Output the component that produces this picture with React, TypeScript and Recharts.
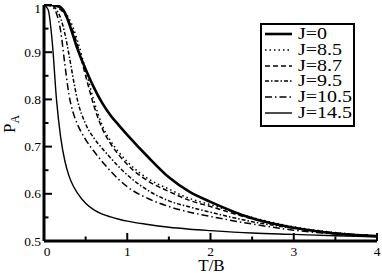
import React from 'react';
import { LineChart, Line, XAxis, YAxis, Legend, Label } from 'recharts';

// Temperature grid (T/B)
const T = [0, 0.05, 0.1, 0.15, 0.2, 0.25, 0.3, 0.35, 0.4, 0.5, 0.6, 0.7, 0.8, 0.9, 1.0, 1.25, 1.5, 1.75, 2.0, 2.5, 3.0, 3.5, 4.0];

// P_A values per J
const J0 = [1.0, 1.0, 1.0, 0.999, 0.995, 0.984, 0.962, 0.935, 0.908, 0.864, 0.825, 0.792, 0.766, 0.745, 0.725, 0.678, 0.635, 0.604, 0.583, 0.548, 0.528, 0.516, 0.51];
const J85 = [1.0, 1.0, 0.999, 0.997, 0.993, 0.985, 0.972, 0.952, 0.926, 0.862, 0.797, 0.745, 0.712, 0.688, 0.668, 0.632, 0.61, 0.59, 0.577, 0.55, 0.53, 0.518, 0.511];
const J87 = [1.0, 1.0, 0.999, 0.996, 0.99, 0.98, 0.965, 0.944, 0.916, 0.85, 0.786, 0.738, 0.706, 0.682, 0.662, 0.627, 0.605, 0.586, 0.573, 0.547, 0.528, 0.517, 0.511];
const J95 = [1.0, 1.0, 0.998, 0.99, 0.972, 0.94, 0.895, 0.845, 0.8, 0.748, 0.718, 0.696, 0.676, 0.657, 0.64, 0.607, 0.585, 0.572, 0.561, 0.541, 0.527, 0.517, 0.511];
const J105 = [1.0, 0.999, 0.996, 0.982, 0.945, 0.875, 0.81, 0.772, 0.748, 0.715, 0.69, 0.668, 0.648, 0.63, 0.615, 0.59, 0.573, 0.561, 0.552, 0.536, 0.523, 0.515, 0.51];
const J145 = [1.0, 0.99, 0.92, 0.8, 0.72, 0.67, 0.638, 0.617, 0.602, 0.58, 0.566, 0.557, 0.551, 0.546, 0.542, 0.535, 0.529, 0.525, 0.522, 0.517, 0.514, 0.511, 0.509];

const seriesNames = ['J=0', 'J=8.5', 'J=8.7', 'J=9.5', 'J=10.5', 'J=14.5'];
const seriesValues = [J0, J85, J87, J95, J105, J145];
const seriesKeys = ['j0', 'j85', 'j87', 'j95', 'j105', 'j145'];
const seriesDash = ['', '1.5 3', '5 3', '4 2 1.5 2', '7 3 1.5 3', ''];
const seriesWidth = [2.6, 1.5, 1.5, 1.5, 1.5, 1.4];

const xMajor = [0, 1, 2, 3, 4];
const xMinor = [0.5, 1.5, 2.5, 3.5];
const xLabels = ['0', '1', '2', '3', '4'];
const yMajor = [0.5, 0.6, 0.7, 0.8, 0.9, 1];
const yMinor = [0.55, 0.65, 0.75, 0.85, 0.95];
const yLabels = ['0.5', '0.6', '0.7', '0.8', '0.9', '1'];

const data = T.map((t, i) => {
  const row: Record<string, number> = { T: t };
  seriesKeys.forEach((k, s) => {
    row[k] = seriesValues[s][i];
  });
  return row;
});

const xTicks = [...xMajor, ...xMinor].sort((a, b) => a - b);
const yTicks = [...yMajor, ...yMinor].sort((a, b) => a - b);

const FONT = "'Liberation Serif', 'Times New Roman', serif";
const MAJ = 8;
const MIN = 4.5;

const isMajor = (list: number[], v: number) => list.findIndex((m) => Math.abs(m - v) < 1e-9);

const BottomTick = (props: any) => {
  const { x, y, payload } = props;
  const idx = isMajor(xMajor, payload.value);
  const len = idx >= 0 ? MAJ : MIN;
  return (
    <g>
      <line x1={x} y1={y} x2={x} y2={y - len} stroke="#000" strokeWidth={2} />
      {idx >= 0 && (
        <text x={x + (idx === 0 ? 3 : 0)} y={y + 14.5} textAnchor="middle" fontSize={13.5} fill="#000" style={{ fontFamily: FONT }}>
          {xLabels[idx]}
        </text>
      )}
    </g>
  );
};

const TopTick = (props: any) => {
  const { x, y, payload } = props;
  const idx = isMajor(xMajor, payload.value);
  const len = idx >= 0 ? MAJ : MIN;
  return <line x1={x} y1={y} x2={x} y2={y + len} stroke="#000" strokeWidth={2} />;
};

const LeftTick = (props: any) => {
  const { x, y, payload } = props;
  const idx = isMajor(yMajor, payload.value);
  const len = idx >= 0 ? MAJ : MIN;
  return (
    <g>
      <line x1={x} y1={y} x2={x + len} y2={y} stroke="#000" strokeWidth={2} />
      {idx >= 0 && (
        <text x={x - 3} y={y + (idx === yMajor.length - 1 ? 8 : 4.5)} textAnchor="end" fontSize={13.5} fill="#000" style={{ fontFamily: FONT }}>
          {yLabels[idx]}
        </text>
      )}
    </g>
  );
};

const RightTick = (props: any) => {
  const { x, y, payload } = props;
  const idx = isMajor(yMajor, payload.value);
  const len = idx >= 0 ? MAJ : MIN;
  return <line x1={x} y1={y} x2={x - len} y2={y} stroke="#000" strokeWidth={2} />;
};

const renderLegend = () => (
  <div
    style={{
      width: 95,
      height: 104,
      boxSizing: 'border-box',
      border: '2.5px solid #000',
      background: '#fff',
      paddingTop: 1,
    }}
  >
    {seriesNames.map((name, i) => (
      <div key={name} style={{ height: 15.8, display: 'flex', alignItems: 'center', position: 'relative' }}>
        <svg width={36} height={15.8} style={{ display: 'block', flex: 'none' }}>
          <line
            x1={3}
            x2={30}
            y1={8}
            y2={8}
            stroke="#000"
            strokeWidth={seriesWidth[i]}
            strokeDasharray={seriesDash[i] || undefined}
          />
        </svg>
        <span
          style={{
            fontFamily: FONT,
            fontSize: 16,
            lineHeight: '15.8px',
            color: '#000',
            display: 'inline-block',
            transform: 'scaleX(1.25)',
            transformOrigin: 'left center',
            whiteSpace: 'nowrap',
          }}
        >
          {name}
        </span>
      </div>
    ))}
  </div>
);

const YLabel = (props: any) => {
  const { viewBox } = props;
  const cx = viewBox.x + 14.5;
  const cy = viewBox.y + viewBox.height / 2 + 1;
  return (
    <text x={cx} y={cy} transform={`rotate(-90, ${cx}, ${cy})`} textAnchor="middle" fill="#000" style={{ fontFamily: FONT }}>
      <tspan fontSize={17}>P</tspan>
      <tspan fontSize={12} dy={4}>A</tspan>
    </text>
  );
};

const XLabel = (props: any) => {
  const { viewBox } = props;
  const cx = viewBox.x + viewBox.width / 2 + 1;
  return (
    <text x={cx} y={viewBox.y + 29.5} textAnchor="middle" fontSize={17} fill="#000" style={{ fontFamily: FONT }}>
      T/B
    </text>
  );
};

const axisLine = { stroke: '#000', strokeWidth: 3 };

export default function App() {
  return (
    <div style={{ position: 'absolute', left: 0, top: 0, width: 382, height: 273, background: '#fff' }}>
      <LineChart width={382} height={273} data={data} margin={{ top: 5, right: 5, left: 0, bottom: 0 }}>
        <XAxis
          xAxisId="b"
          dataKey="T"
          type="number"
          domain={[0, 4]}
          ticks={xTicks}
          interval={0}
          orientation="bottom"
          height={32}
          tickSize={0}
          tickMargin={0}
          tickLine={false}
          axisLine={axisLine}
          tick={<BottomTick />}
          allowDataOverflow
        >
          <Label content={<XLabel />} />
        </XAxis>
        <XAxis
          xAxisId="t"
          dataKey="T"
          type="number"
          domain={[0, 4]}
          ticks={xTicks}
          interval={0}
          orientation="top"
          height={0}
          tickSize={0}
          tickMargin={0}
          tickLine={false}
          axisLine={axisLine}
          tick={<TopTick />}
          allowDataOverflow
        />
        <YAxis
          yAxisId="l"
          type="number"
          domain={[0.5, 1]}
          ticks={yTicks}
          interval={0}
          orientation="left"
          width={44}
          tickSize={0}
          tickMargin={0}
          tickLine={false}
          axisLine={axisLine}
          tick={<LeftTick />}
          allowDataOverflow
        >
          <Label content={<YLabel />} />
        </YAxis>
        <YAxis
          yAxisId="r"
          type="number"
          domain={[0.5, 1]}
          ticks={yTicks}
          interval={0}
          orientation="right"
          width={0}
          tickSize={0}
          tickMargin={0}
          tickLine={false}
          axisLine={axisLine}
          tick={<RightTick />}
          allowDataOverflow
        />
        {seriesKeys.map((k, i) => (
          <Line
            key={k}
            xAxisId={i % 2 === 0 ? 'b' : 't'}
            yAxisId={i % 2 === 0 ? 'l' : 'r'}
            dataKey={k}
            name={seriesNames[i]}
            type="monotone"
            stroke="#000"
            strokeWidth={seriesWidth[i]}
            strokeDasharray={seriesDash[i] || undefined}
            dot={false}
            activeDot={false}
            isAnimationActive={false}
          />
        ))}
        <Legend
          layout="vertical"
          align="center"
          verticalAlign="middle"
          content={renderLegend}
          wrapperStyle={{ position: 'absolute', left: 260, top: 23, width: 95, height: 104 }}
        />
      </LineChart>
    </div>
  );
}
